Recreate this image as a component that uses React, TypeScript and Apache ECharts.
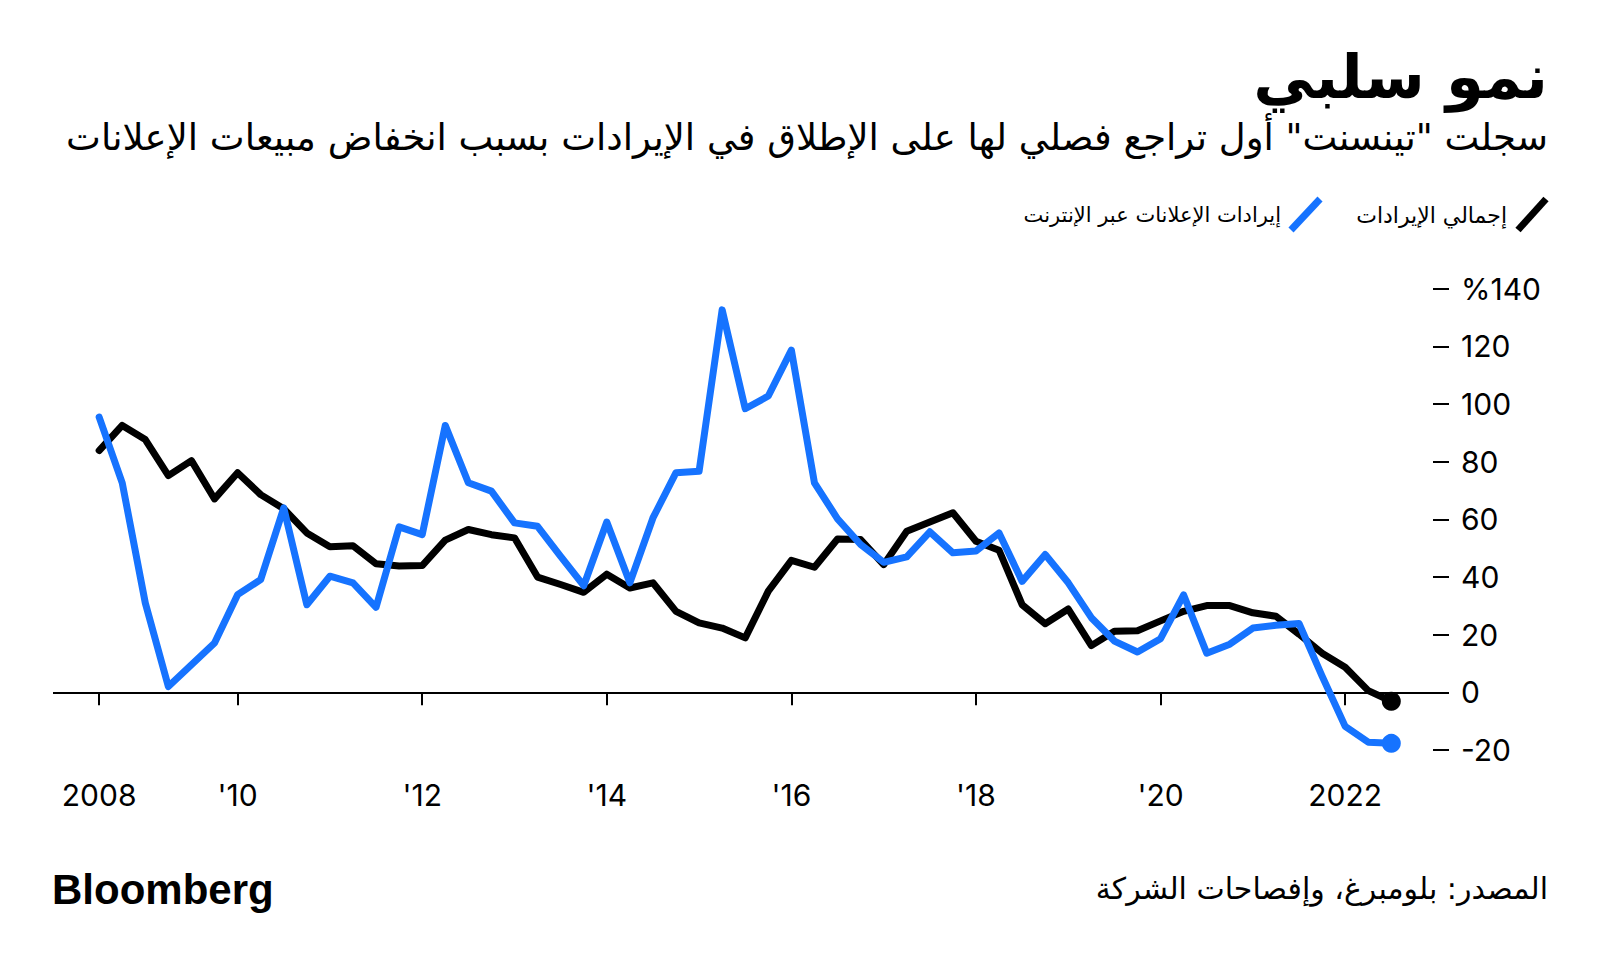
import React, { useEffect, useRef } from "react";
import * as echarts from "echarts";

// Quarterly year-over-year growth, Q2 2008 – Q2 2022 (quarter ends)
const firstQuarterEnd = 2008.5;

const totalRevenue: number[] = [
  83.9, 92.6, 87.7, 75.2, 80.4, 67.1, 76.2, 68.6, 63.7, 55.3, 50.5, 50.9,
  44.6, 43.8, 44.0, 52.8, 56.5, 54.7, 53.6, 40.0, 37.4, 34.7, 41.0,
  36.2, 38.0, 28.1, 24.1, 22.3, 18.9, 35.1, 45.8, 43.4, 53.2, 53.0, 44.3,
  55.9, 59.1, 62.3, 52.4, 49.3, 30.4, 23.8, 28.9, 16.2, 21.2,
  21.4, 24.8, 28.1, 30.1, 30.1, 27.6, 26.4, 20.2, 13.6, 8.7, 0.6, -3.1,
];

const onlineAdRevenue: number[] = [
  95.5, 72.7, 31.0, 2.0, 9.6, 17.1, 33.9, 39.1, 64.0, 30.4, 40.3, 38.0,
  29.5, 57.4, 54.7, 92.6, 72.7, 69.8, 58.8, 57.6, 47.2, 37.0, 59.1,
  38.0, 60.5, 76.2, 76.7, 132.7, 98.4, 102.8, 118.7, 72.7, 60.2, 51.3, 45.1,
  47.0, 55.7, 48.4, 49.0, 55.3, 38.5, 47.8, 38.0, 25.9, 17.8,
  14.0, 18.6, 33.8, 13.6, 16.7, 22.3, 23.3, 23.9, 5.6, -11.8, -17.3, -17.7,
];

const xTickValues: number[] = [2008.5, 2010, 2012, 2014, 2016, 2018, 2020, 2022];
const xTickLabels: string[] = ["2008", "'10", "'12", "'14", "'16", "'18", "'20", "2022"];

const yMin = -20;
const yMax = 140;
const yStep = 20;

const titleText = "نمو سلبي";
const subtitleText =
  'سجلت "تينسنت" أول تراجع فصلي لها على الإطلاق في الإيرادات بسبب انخفاض مبيعات الإعلانات';
const legendTotal = "إجمالي الإيرادات";
const legendAds = "إيرادات الإعلانات عبر الإنترنت";
const sourceText = "المصدر: بلومبرغ، وإفصاحات الشركة";
const brandText = "Bloomberg";

const BLUE = "#1673ff";
const BLACK = "#000000";
const AR_FONT = '"DejaVu Sans", "Noto Sans", sans-serif';
const NUM_FONT = 'Inter, "Liberation Sans", sans-serif';

function toPairs(values: number[]) {
  return values.map((v, i) => {
    const x = firstQuarterEnd + i * 0.25;
    if (i === values.length - 1) {
      return { value: [x, v], symbol: "circle", symbolSize: 19 };
    }
    return { value: [x, v] };
  });
}

export default function App() {
  const ref = useRef<HTMLDivElement>(null);

  useEffect(() => {
    if (!ref.current) return;
    const chart = echarts.init(ref.current, undefined, { renderer: "svg" });

    const labelFor = (v: number) => {
      const idx = xTickValues.findIndex((t) => Math.abs(t - v) < 1e-6);
      return idx >= 0 ? xTickLabels[idx] : "";
    };

    chart.setOption({
      animation: false,
      backgroundColor: "#ffffff",
      grid: { left: 53, right: 151, top: 288.8, bottom: 219, containLabel: false },
      xAxis: {
        type: "value",
        min: 2008,
        max: 2023.125,
        axisLine: { show: false },
        splitLine: { show: false },
        axisTick: {
          show: true,
          customValues: xTickValues,
          length: 13,
          lineStyle: { color: BLACK, width: 2 },
        },
        axisLabel: {
          show: true,
          customValues: xTickValues,
          formatter: (v: number) => labelFor(v),
          margin: 30,
          color: BLACK,
          fontSize: 30,
          fontFamily: NUM_FONT,
        },
      },
      yAxis: {
        type: "value",
        position: "right",
        min: yMin,
        max: yMax,
        interval: yStep,
        axisLine: { show: false },
        splitLine: { show: false },
        axisTick: {
          show: true,
          inside: true,
          length: 16,
          lineStyle: { color: BLACK, width: 2 },
        },
        axisLabel: {
          margin: 12,
          color: BLACK,
          fontSize: 30,
          fontFamily: NUM_FONT,
          formatter: (v: number) => (v === yMax ? "%" + v : String(v)),
        },
      },
      series: [
        {
          name: legendTotal,
          type: "line",
          data: toPairs(totalRevenue),
          symbol: "none",
          showSymbol: true,
          showAllSymbol: true,
          itemStyle: { color: BLACK },
          lineStyle: { color: BLACK, width: 7, join: "round", cap: "round" },
          z: 3,
          markLine: {
            silent: true,
            symbol: ["none", "none"],
            label: { show: false },
            lineStyle: { color: BLACK, width: 2, type: "solid" },
            data: [{ yAxis: 0 }],
            z: 1,
          },
        },
        {
          name: legendAds,
          type: "line",
          data: toPairs(onlineAdRevenue),
          symbol: "none",
          showSymbol: true,
          showAllSymbol: true,
          itemStyle: { color: BLUE },
          lineStyle: { color: BLUE, width: 7, join: "round", cap: "round" },
          z: 4,
        },
      ],
      graphic: [
        {
          type: "text",
          x: 1548,
          y: 76,
          style: {
            text: titleText,
            align: "right",
            verticalAlign: "middle",
            fontSize: 61,
            fontWeight: "bold",
            fontFamily: AR_FONT,
            fill: BLACK,
          },
        },
        {
          type: "text",
          x: 1548,
          y: 137,
          style: {
            text: subtitleText,
            align: "right",
            verticalAlign: "middle",
            fontSize: 37,
            fontFamily: AR_FONT,
            fill: BLACK,
          },
        },
        {
          type: "line",
          shape: { x1: 1518, y1: 230, x2: 1546, y2: 199 },
          style: { stroke: BLACK, lineWidth: 7 },
        },
        {
          type: "text",
          x: 1507,
          y: 215,
          style: {
            text: legendTotal,
            align: "right",
            verticalAlign: "middle",
            fontSize: 22,
            fontFamily: AR_FONT,
            fill: BLACK,
          },
        },
        {
          type: "line",
          shape: { x1: 1291, y1: 230, x2: 1320, y2: 199 },
          style: { stroke: BLUE, lineWidth: 7 },
        },
        {
          type: "text",
          x: 1281,
          y: 215,
          style: {
            text: legendAds,
            align: "right",
            verticalAlign: "middle",
            fontSize: 21,
            fontFamily: AR_FONT,
            fill: BLACK,
          },
        },
        {
          type: "text",
          x: 52,
          y: 889,
          style: {
            text: brandText,
            align: "left",
            verticalAlign: "middle",
            fontSize: 42,
            fontWeight: "bold",
            fontFamily: '"Liberation Sans", Arial, sans-serif',
            fill: BLACK,
          },
        },
        {
          type: "text",
          x: 1548,
          y: 888,
          style: {
            text: sourceText,
            align: "right",
            verticalAlign: "middle",
            fontSize: 30,
            fontFamily: AR_FONT,
            fill: BLACK,
          },
        },
      ],
    });

    return () => chart.dispose();
  }, []);

  return (
    <div
      ref={ref}
      style={{ position: "fixed", left: 0, top: 0, width: 1600, height: 969, background: "#fff" }}
    />
  );
}
